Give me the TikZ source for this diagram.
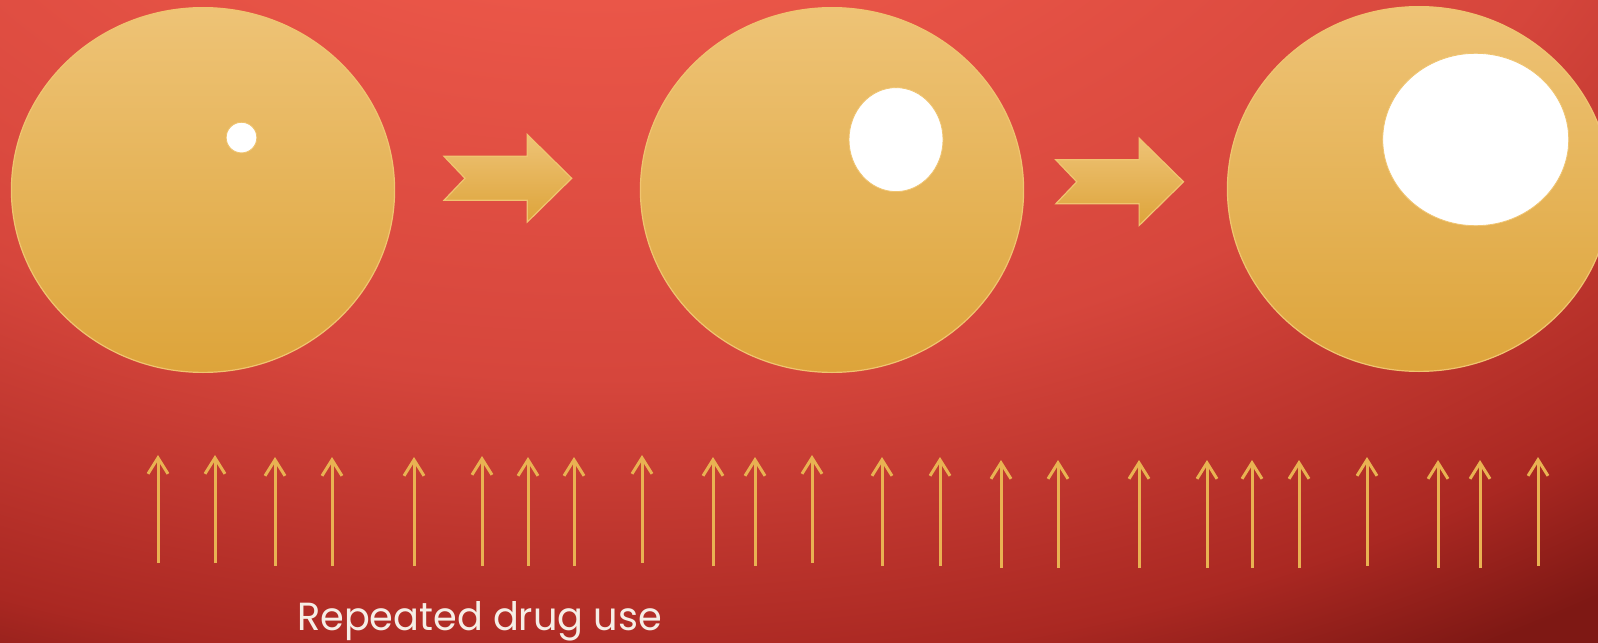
\documentclass[tikz,border=0pt]{standalone}
\usepackage{fontspec}
\newfontfamily\capfont{Poppins}
\usetikzlibrary{shapes.geometric,arrows.meta}
\definecolor{bgtop}{RGB}{234,86,72}
\definecolor{bgmid}{RGB}{214,70,60}
\definecolor{bglow}{RGB}{170,40,34}
\definecolor{bgbot}{RGB}{126,24,20}
\definecolor{goldtop}{RGB}{238,195,118}
\definecolor{goldbot}{RGB}{221,164,58}
\definecolor{goldline}{RGB}{240,196,112}
\definecolor{doseline}{RGB}{233,178,82}
\definecolor{captxt}{RGB}{246,238,230}
\pgfdeclareradialshading{bgglow}{\pgfpointorigin}{color(0bp)=(bgtop); color(4.6bp)=(bgtop); color(11.5bp)=(bgmid); color(16.9bp)=(bglow); color(19.2bp)=(bgbot); color(50bp)=(bgbot)}

\begin{document}
\begin{tikzpicture}[x=0.5pt, y=-0.5pt,
    cell/.style={ellipse, draw=goldline, line width=0.6pt, top color=goldtop, bottom color=goldbot, minimum width=191.6pt, minimum height=182.4pt, inner sep=0pt},
    hole/.style={ellipse, draw=goldline, line width=0.4pt, fill=white, inner sep=0pt},
    chev/.style={draw=goldline, line width=0.6pt, top color=goldtop, bottom color=goldbot},
    dose/.style={draw=doseline, line width=1.5pt, -{Straight Barb[length=8pt, width=10pt]}}
]
    \useasboundingbox (0,0) rectangle (1598,642);
    \clip (0,0) rectangle (1598,642);
    \fill[bgbot] (0,0) rectangle (1598,642);
    \shade[shading=bgglow] (600,-250) ellipse (2210 and 1365);

    % cells and growing holes
    \node[cell] (c1) at (203,190) {};
    \node[cell] (c2) at (832,190) {};
    \node[cell] (c3) at (1419,189) {};
    \node[hole, minimum size=15.3pt] (h1) at (241.5,137.6) {};
    \node[hole, minimum width=47pt, minimum height=52pt] (h2) at (896,139.6) {};
    \node[hole, minimum width=93pt, minimum height=86.2pt] (h3) at (1475.7,139.5) {};

    % chevrons between cells
    \foreach \x/\y in {444/178.3, 1055.8/181.8}
        \draw[chev] (\x,\y) ++(0,-22) -- ++(83.3,0) -- ++(0,-21.7) -- ++(44.4,43.7) -- ++(-44.4,43.7) -- ++(0,-21.7) -- ++(-83.3,0) -- ++(21,-22) -- cycle;

    % doses
    \foreach \x/\t/\b [count=\i] in {158/455/563, 215/455/563, 275/457/566, 332/457/566, 414/457/566, 482/456/566, 528/457/566, 574/457/566, 642/455/563, 713/457/566, 755/457/566, 812/455/563, 882/457/566, 940/457/566, 1001/460/568, 1058/460/568, 1139/460/568, 1207/460/568, 1252/460/568, 1299/460/568, 1367/457/566, 1438/460/568, 1480/460/568, 1538/457/566} {
        \coordinate (base\i) at (\x,\b);
        \coordinate (tip\i) at (\x,\t);
        \draw[dose] (base\i) -- (tip\i);
    }

    \node[anchor=base west, text=captxt, inner sep=0pt, xscale=0.975, font=\capfont\fontsize{19.6}{22}\selectfont] (cap) at (296.7,630) {Repeated drug use};
\end{tikzpicture}
\end{document}
